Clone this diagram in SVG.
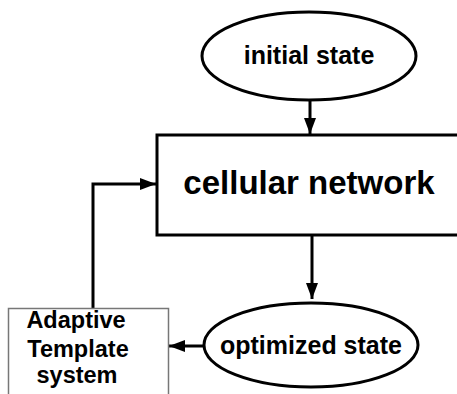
<svg xmlns="http://www.w3.org/2000/svg" width="457" height="394" viewBox="0 0 457 394">
<defs>
<style>
.t{font-family:"Liberation Sans",Arial,sans-serif;font-weight:bold;fill:#000;text-anchor:middle}
.n{fill:#fff;stroke:#000;stroke-width:3}
.c{fill:none;stroke:#000;stroke-width:3}
</style>
<marker id="ah" markerWidth="10" markerHeight="10" refX="9" refY="5" orient="auto" markerUnits="userSpaceOnUse" viewBox="0 0 10 10">
<path d="M0,0 L10,5 L0,10 Z" fill="#000"/>
</marker>
<marker id="ah2" markerWidth="16" markerHeight="12" refX="16" refY="6" orient="auto" markerUnits="userSpaceOnUse" viewBox="0 0 16 12">
<path d="M0,0 L16,6 L0,12 Z" fill="#000"/>
</marker>
</defs>
<rect width="457" height="394" fill="#fff"/>
<g id="connectors">
<line class="c" x1="310" y1="101" x2="310" y2="134" marker-end="url(#ah2)"/>
<line class="c" x1="312" y1="236" x2="312" y2="299" marker-end="url(#ah2)"/>
<line class="c" x1="203" y1="346" x2="169" y2="346" marker-end="url(#ah2)"/>
<polyline class="c" points="93,308 93,184 156,184" marker-end="url(#ah2)"/>
</g>
<g id="initial">
<ellipse class="n" cx="309" cy="56" rx="107" ry="44"/>
<line x1="416" y1="51" x2="416" y2="60" stroke="#000" stroke-width="1.5"/>
<text class="t" x="309" y="64" font-size="25">initial state</text>
</g>
<g id="network">
<rect class="n" x="157" y="135" width="310" height="100"/>
<text class="t" x="309" y="194" font-size="33">cellular network</text>
</g>
<g id="optimized">
<ellipse class="n" cx="311" cy="345" rx="107" ry="42"/>
<text class="t" x="311" y="354" font-size="25">optimized state</text>
</g>
<g id="adaptive">
<rect x="8.5" y="308.5" width="160" height="100" fill="#fff" stroke="#777" stroke-width="1.5"/>
<text class="t" x="76" y="328" font-size="23.5">Adaptive</text>
<text class="t" x="78" y="357" font-size="23.5">Template</text>
<text class="t" x="77" y="383" font-size="23.5">system</text>
</g>
</svg>
